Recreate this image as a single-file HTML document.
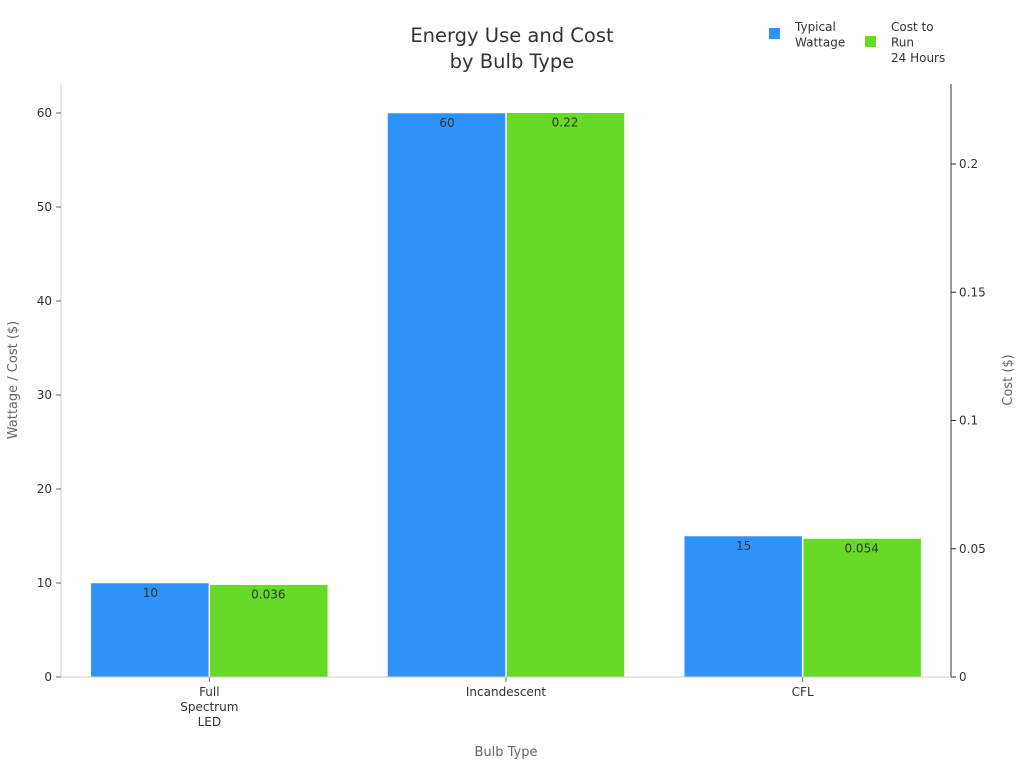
<!DOCTYPE html>
<html><head><meta charset="utf-8"><style>
body{margin:0;background:#fff;}
svg{font-family:"DejaVu Sans","Liberation Sans",sans-serif;}
</style></head><body>
<svg id="c" width="1024" height="768">
<text x="512" y="42" font-size="19.5" fill="#333" text-anchor="middle"><tspan x="512">Energy Use and Cost</tspan><tspan x="512" dy="26">by Bulb Type</tspan></text>
<g>
<rect x="769" y="28" width="11" height="11" fill="#2e93f9"/>
<text x="795" y="31" font-size="12" fill="#333"><tspan x="795">Typical</tspan><tspan x="795" dy="15.5">Wattage</tspan></text>
<rect x="865" y="36" width="11" height="11" fill="#66da26"/>
<text x="891" y="31" font-size="12" fill="#333"><tspan x="891">Cost to</tspan><tspan x="891" dy="15.5">Run</tspan><tspan x="891" dy="15.5">24 Hours</tspan></text>
</g>
<g id="plot"></g>
<text x="506" y="756" font-size="13" fill="#666" text-anchor="middle">Bulb Type</text>
<text transform="translate(17,380) rotate(-90)" font-size="13" fill="#666" text-anchor="middle">Wattage / Cost ($)</text>
<text transform="translate(1012,380) rotate(-90)" font-size="13" fill="#666" text-anchor="middle">Cost ($)</text>
</svg>
<script>
const categories=[["Full","Spectrum","LED"],["Incandescent"],["CFL"]];
const wattage=[10,60,15];
const cost=[0.036,0.22,0.054];
const wattLabels=["10","60","15"];
const costLabels=["0.036","0.22","0.054"];
const leftTicks=[0,10,20,30,40,50,60];
const rightTicks=[0,0.05,0.1,0.15,0.2];
const rightTickLabels=["0","0.05","0.1","0.15","0.2"];

const NS="http://www.w3.org/2000/svg";
const g=document.getElementById('plot');
const X0=61,X1=951,Y0=677,YT=84;
const yL=v=>Y0-v*9.4;
const yR=v=>Y0-v*2565;
const bw=(X1-X0)/categories.length;
function el(t,a,txt){const e=document.createElementNS(NS,t);for(const k in a)e.setAttribute(k,a[k]);if(txt!==undefined)e.textContent=txt;g.appendChild(e);return e;}
let e;
e=el('line',{x1:X0,y1:YT,x2:X0,y2:Y0,stroke:'#ccc'});


e=el('line',{x1:X1,y1:YT,x2:X1,y2:Y0,stroke:'#333'});


leftTicks.forEach(v=>{
 const y=yL(v);
 el('line',{x1:X0-5,y1:y,x2:X0,y2:y,stroke:'#666'});
 e=el('text',{x:X0-9,y:y+4,'font-size':12,fill:'#333','text-anchor':'end'},String(v));
 
 
});
rightTicks.forEach((v,i)=>{
 const y=yR(v);
 el('line',{x1:X1,y1:y,x2:X1+5,y2:y,stroke:'#333'});
 e=el('text',{x:X1+8,y:y+4,'font-size':12,fill:'#333'},rightTickLabels[i]);
 
 
});
categories.forEach((c,i)=>{
 const cx=X0+bw*(i+0.5);
 const w=118;
 let y=yL(wattage[i]);
 e=el('rect',{x:cx-w-0.5,y:y,width:w,height:Y0-y,fill:'#2e93f9',stroke:'#fff','stroke-width':0.5});
 
 
 e=el('text',{x:cx-w/2,y:y+14,'font-size':12,fill:'#333','text-anchor':'middle'},wattLabels[i]);
 
 
 y=yR(cost[i]);
 e=el('rect',{x:cx+0.5,y:y,width:w,height:Y0-y,fill:'#66da26',stroke:'#fff','stroke-width':0.5});
 
 
 e=el('text',{x:cx+w/2,y:y+14,'font-size':12,fill:'#333','text-anchor':'middle'},costLabels[i]);
 
 
 el('line',{x1:cx,y1:Y0,x2:cx,y2:Y0+5,stroke:'#666'});
 c.forEach((l,j)=>{
  e=el('text',{x:cx,y:Y0+19+j*15,'font-size':12,fill:'#333','text-anchor':'middle'},l);
  
  
 });
});
e=el('line',{x1:X0,y1:Y0,x2:X1,y2:Y0,stroke:'#ccc'});


</script>
</body></html>
